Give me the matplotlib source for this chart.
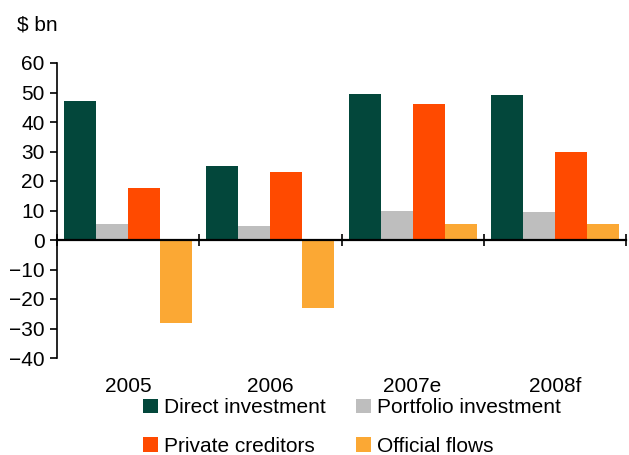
import matplotlib.pyplot as plt
import matplotlib.transforms as mtransforms
import numpy as np

plt.rcParams['font.family'] = ['Liberation Sans', 'DejaVu Sans']

# net capital flows, $ bn
years = ['2005', '2006', '2007e', '2008f']
direct = [47, 25, 49.5, 49]
portfolio = [5.4, 4.7, 10, 9.5]
private = [17.5, 23, 46, 30]
official = [-28, -23, 5.4, 5.4]

series = [
    ('Direct investment', direct, '#03473b'),
    ('Portfolio investment', portfolio, '#bebebe'),
    ('Private creditors', private, '#ff4a00'),
    ('Official flows', official, '#fba834'),
]

fs = 15

fig = plt.figure(figsize=(6.29, 4.55), dpi=100)
ax = fig.add_axes([57 / 629, 97 / 455, 569 / 629, 295 / 455])

x = np.arange(len(years))
width = 0.225
bars = []
for i, (name, vals, color) in enumerate(series):
    bars.append(ax.bar(x + (i - 1.5) * width, vals, width, color=color,
                       label=name, linewidth=0))

ax.set_xlim(-0.5, len(years) - 0.5)
ax.set_ylim(-40, 60)
ax.set_yticks(range(-40, 61, 10))
ax.tick_params(axis='y', direction='out', length=5, width=1.2, labelsize=fs, pad=4)

# category axis sits on the zero line, ticks mark group boundaries
ax.spines['bottom'].set_position(('data', 0))
ax.spines['bottom'].set_linewidth(1.6)
ax.spines['left'].set_linewidth(1.2)
ax.spines['top'].set_visible(False)
ax.spines['right'].set_visible(False)
ax.set_xticks(np.arange(len(years) + 1) - 0.5)
ax.set_xticklabels([])
ax.tick_params(axis='x', direction='inout', length=8, width=1.2)

trans = mtransforms.blended_transform_factory(ax.transData, ax.transAxes)
for xi, year in zip(x, years):
    ax.text(xi, -0.098, year, transform=trans, ha='center', va='center', fontsize=fs)

fig.text(17 / 629, 1 - 25 / 455, '\\$ bn', fontsize=fs, va='center')

# legend rows: direct / portfolio, then private / official
order = [0, 2, 1, 3]
ax.legend([bars[k] for k in order], [series[k][0] for k in order],
          loc='upper left', bbox_to_anchor=(135 / 629, 1 - 390 / 455),
          bbox_transform=fig.transFigure, ncol=2, frameon=False, fontsize=fs,
          handlelength=0.7, handleheight=0.7, handletextpad=0.3,
          labelspacing=0.92, columnspacing=1.45, borderaxespad=0)

fig.savefig('out.png', dpi=100)
